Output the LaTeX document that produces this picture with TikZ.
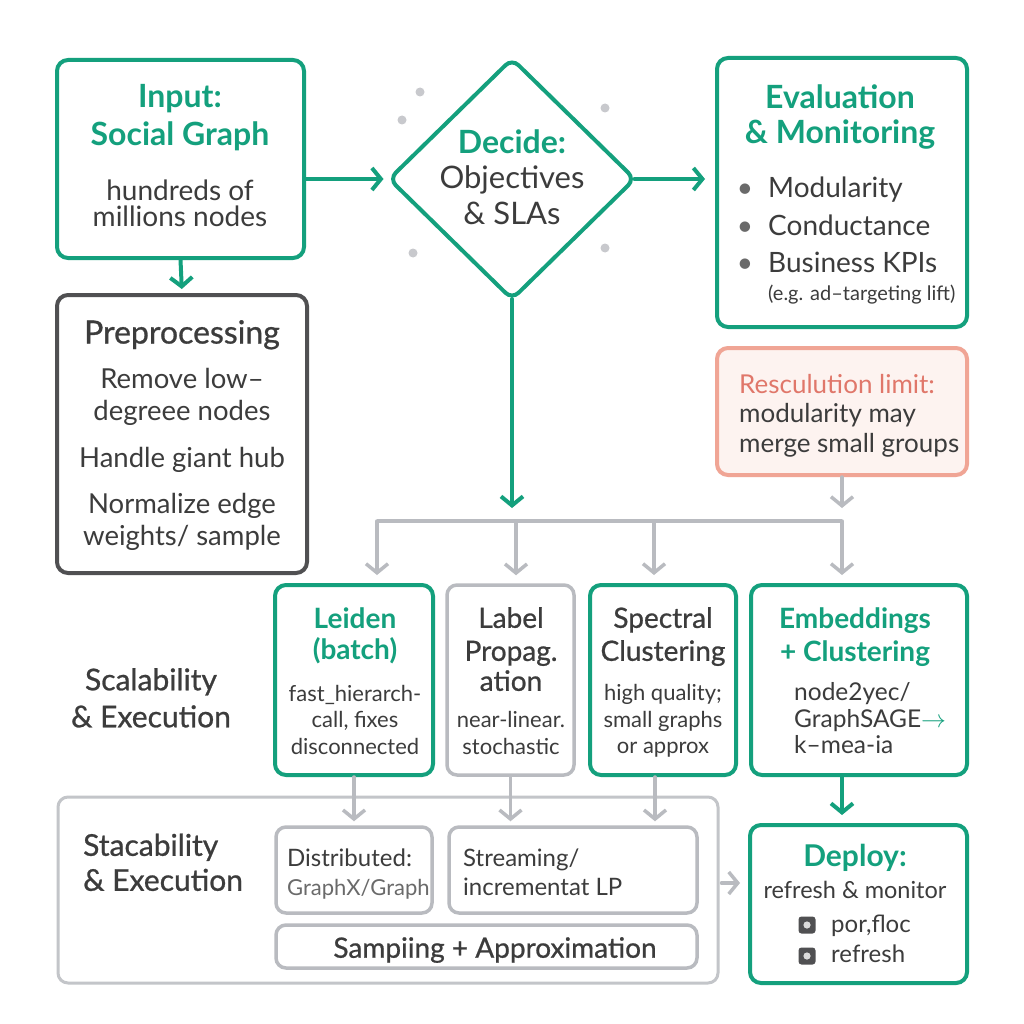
\documentclass[tikz,border=0pt]{standalone}
\usepackage{fontspec}
\setmainfont{Lato}
\newfontfamily\medfont[FakeBold=0.8]{Lato}
\usetikzlibrary{shapes.geometric,arrows.meta}

\definecolor{grn}{HTML}{14A07D}
\definecolor{ink}{HTML}{3C3C3C}
\definecolor{slate}{HTML}{505052}
\definecolor{fog}{HTML}{B9BBC0}
\definecolor{dotc}{HTML}{C8C9CD}
\definecolor{mute}{HTML}{6A6A6A}
\definecolor{coral}{HTML}{F0A595}
\definecolor{blush}{HTML}{FDF3F0}
\definecolor{coraltext}{HTML}{E0776A}

\newcommand{\fs}[2]{\fontsize{#1}{#2}\selectfont\lineskiplimit=-100pt\relax}
\newcommand{\gtitle}[2]{{\fontsize{#1}{#1}\selectfont\bfseries\color{grn}#2}}
\newcommand{\mtitle}[2]{{\fontsize{#1}{#1}\medfont #2}}
\newcommand{\bul}{\llap{\textcolor{mute}{•}\hspace{15pt}}}

\begin{document}
\begin{tikzpicture}[x=1pt,y=-1pt,
  gbox/.style={draw=grn, line width=4pt, rounded corners=11pt, fill=white, inner sep=0pt},
  dbox/.style={draw=slate, line width=4pt, rounded corners=11pt, fill=white, inner sep=0pt},
  lbox/.style={draw=fog, line width=3.5pt, rounded corners=10pt, fill=white, inner sep=0pt},
  obox/.style={draw=fog!85!white, line width=3pt, rounded corners=10pt, inner sep=0pt},
  rbox/.style={draw=coral, line width=4pt, rounded corners=11pt, fill=blush, inner sep=0pt},
  gdiam/.style={shape=diamond, draw=grn, line width=4pt, rounded corners=9pt, fill=white, inner sep=0pt},
  txt/.style={inner sep=0pt, text=ink, align=center},
  sq/.style={fill=slate, rounded corners=3pt, minimum size=17pt, inner sep=0pt,
    path picture={\fill[white!80!slate] (path picture bounding box.center) circle (3.6pt);}},
  garrow/.style={draw=grn, line width=4pt, line cap=round, -{Straight Barb[length=9pt,width=22pt]}},
  gyarrow/.style={draw=fog, line width=3.5pt, line cap=round, -{Straight Barb[length=9pt,width=22pt]}},
  gline/.style={draw=fog, line width=3.5pt}]

\fill[white] (0,0) rectangle (1024,1024);
\useasboundingbox (0,0) rectangle (1024,1024);

% boxes
\node[gbox, minimum width=247pt, minimum height=198pt] (input) at (180.5,159) {};
\node[dbox, minimum width=250pt, minimum height=278pt] (preproc) at (182,434) {};
\node[gdiam, minimum width=247pt, minimum height=242pt] (decide) at (512,179) {};
\node[gbox, minimum width=250pt, minimum height=269pt] (eval) at (842,192.5) {};
\node[rbox, minimum width=250pt, minimum height=127pt] (res) at (842,411.5) {};
\node[gbox, minimum width=158pt, minimum height=190pt] (leiden) at (354,680) {};
\node[lbox, minimum width=127pt, minimum height=190pt] (label) at (510.5,680) {};
\node[gbox, minimum width=146pt, minimum height=190pt] (spectral) at (663,680) {};
\node[gbox, minimum width=216pt, minimum height=190pt] (emb) at (859,680) {};
\node[obox, minimum width=660pt, minimum height=186pt] (outer) at (388,890) {};
\node[lbox, minimum width=156pt, minimum height=86pt] (dist) at (354,870) {};
\node[lbox, minimum width=248pt, minimum height=86pt] (stream) at (573,870) {};
\node[lbox, minimum width=421pt, minimum height=43pt] (samp) at (486.5,946.5) {};
\node[gbox, minimum width=217pt, minimum height=158pt] (deploy) at (858.5,904) {};

\foreach \p in {(420,92),(402,120),(605,108),(413,253),(605,248)}
  \fill[dotc] \p circle (4.5pt);

% texts
\node[txt, anchor=north, font=\fs{28}{26}] (input-t) at (180,84)
  {\gtitle{32}{Input:}\\[12pt]\gtitle{32}{Social Graph}\\[29pt]hundreds of\\millions nodes};
\node[txt, anchor=north, font=\fs{27.5}{32}] (preproc-t) at (182,320)
  {\mtitle{32}{Preprocessing}\\[13pt]Remove low–\\degreee nodes\\[15pt]Handle giant hub\\[14pt]Normalize edge\\weights/ sample};
\node[txt, anchor=north, font=\fs{31}{36}] (decide-t) at (512,130)
  {\gtitle{32}{Decide:}\\[-1pt]Objectives\\\& SLAs};
\node[txt, anchor=north, font=\fs{32}{35}] (eval-t) at (840,85)
  {\gtitle{32}{Evaluation}\\\gtitle{32}{\& Monitoring}};
\node[txt, align=left, anchor=north west, font=\fs{28}{37.5}] (eval-l) at (768,177)
  {\bul Modularity\\\bul Conductance\\\bul Business KPIs\\[-9.5pt]{\fontsize{20}{20}\selectfont (e.g. ad–targeting lift)}};
\node[txt, align=left, anchor=north west, font=\fs{26}{29.5}] (res-t) at (739,374)
  {{\color{coraltext}Resculution limit:}\\modularity may\\merge small groups};
\node[txt, anchor=north, font=\fs{22}{26.5}] (leiden-t) at (355,607)
  {\gtitle{28}{Leiden}\\[4.5pt]\gtitle{28}{(batch)}\\[15.5pt]fast\_hierarch-\\call, fixes\\disconnected};
\node[txt, anchor=north, font=\fs{22}{26.5}] (label-t) at (511,607)
  {\mtitle{28}{Label}\\[6.5pt]\mtitle{28}{Propag.}\\[3.5pt]\mtitle{28}{ation}\\[10.5pt]near-linear.\\stochastic};
\node[txt, anchor=north, font=\fs{22}{26.5}] (spectral-t) at (663,607)
  {\mtitle{28}{Spectral}\\[6.5pt]\mtitle{28}{Clustering}\\[13.5pt]high quality;\\small graphs\\or approx};
\node[txt, anchor=north, font=\fs{28}{33}] (emb-t) at (855,607)
  {\gtitle{28}{Embeddings}\\\gtitle{28}{+ Clustering}};
\node[txt, align=left, anchor=north west, font=\fs{24.5}{26.5}] (emb-l) at (794,682.5)
  {node2yec/\\GraphSAGE{\color{grn}$\rightarrow$}\\k–mea-ia};
\node[txt, anchor=north, font=\fs{30}{37}\medfont] (scal-t) at (151,668)
  {Scalability\\\& Execution};
\node[txt, align=left, anchor=north west, font=\fs{30}{35}\medfont] (stac-t) at (83,833.5)
  {Stacability\\\& Execution};
\node[txt, align=left, anchor=north west, font=\fs{24}{29}] (dist-t) at (287,849)
  {Distributed:\\{\color{mute}\fontsize{22}{22}\selectfont GraphX/Graph}};
\node[txt, align=left, anchor=north west, font=\fs{24}{29}] (stream-t) at (463,849)
  {Streaming/\\incrementat LP};
\node[txt, anchor=north, font=\fs{28}{28}\medfont] (samp-t) at (495,937)
  {Sampiing + Approximation};
\node[txt, anchor=north, font=\fs{23.5}{32}] (deploy-t) at (855,843.5)
  {\gtitle{30}{Deploy:}\\refresh \& monitor};
\node[txt, align=left, anchor=north west, font=\fs{24}{30}] (deploy-l) at (831,915)
  {por,floc\\refresh};
\node[sq] (sq1) at (807,925) {};
\node[sq] (sq2) at (807,956) {};

% connectors
\coordinate (gtip) at (512,508);
\coordinate (rtip) at (842,508);
\coordinate (bus-l) at (377,521);
\coordinate (bus-a) at (516,521);
\coordinate (bus-b) at (654,521);
\coordinate (bus-r) at (842,521);

\draw[garrow, shorten >=3pt] (input.east |- decide) -- (decide.west);
\draw[garrow, shorten <=-3pt, shorten >=10pt] (decide.east) -- (decide -| eval.west);
\draw[garrow, shorten >=4pt] (input.south) -- (preproc.north);
\draw[garrow, shorten <=-3pt] (decide.south) -- (gtip);
\draw[gyarrow] (res.south) -- (rtip);
\draw[gline] (bus-l) -- (bus-r);
\foreach \c/\n in {bus-l/leiden, bus-a/label, bus-b/spectral, bus-r/emb}
  \draw[gyarrow, shorten >=8pt] (\c) -- (\c |- \n.north);
\draw[gyarrow, shorten >=4pt] (leiden.south) -- (leiden.south |- dist.north);
\draw[gyarrow, shorten >=4pt] (label.south) -- (label.south |- stream.north);
\draw[gyarrow, shorten >=4pt] ([xshift=-8pt]spectral.south) -- ([xshift=-8pt]spectral.south |- stream.north);
\draw[garrow, shorten >=8pt] (emb.south -| rtip) -- (deploy.north -| rtip);
\draw[gyarrow, shorten <=2pt, shorten >=8pt] ([yshift=7pt]outer.east) -- ([yshift=7pt]outer.east -| deploy.west);
\end{tikzpicture}
\end{document}
